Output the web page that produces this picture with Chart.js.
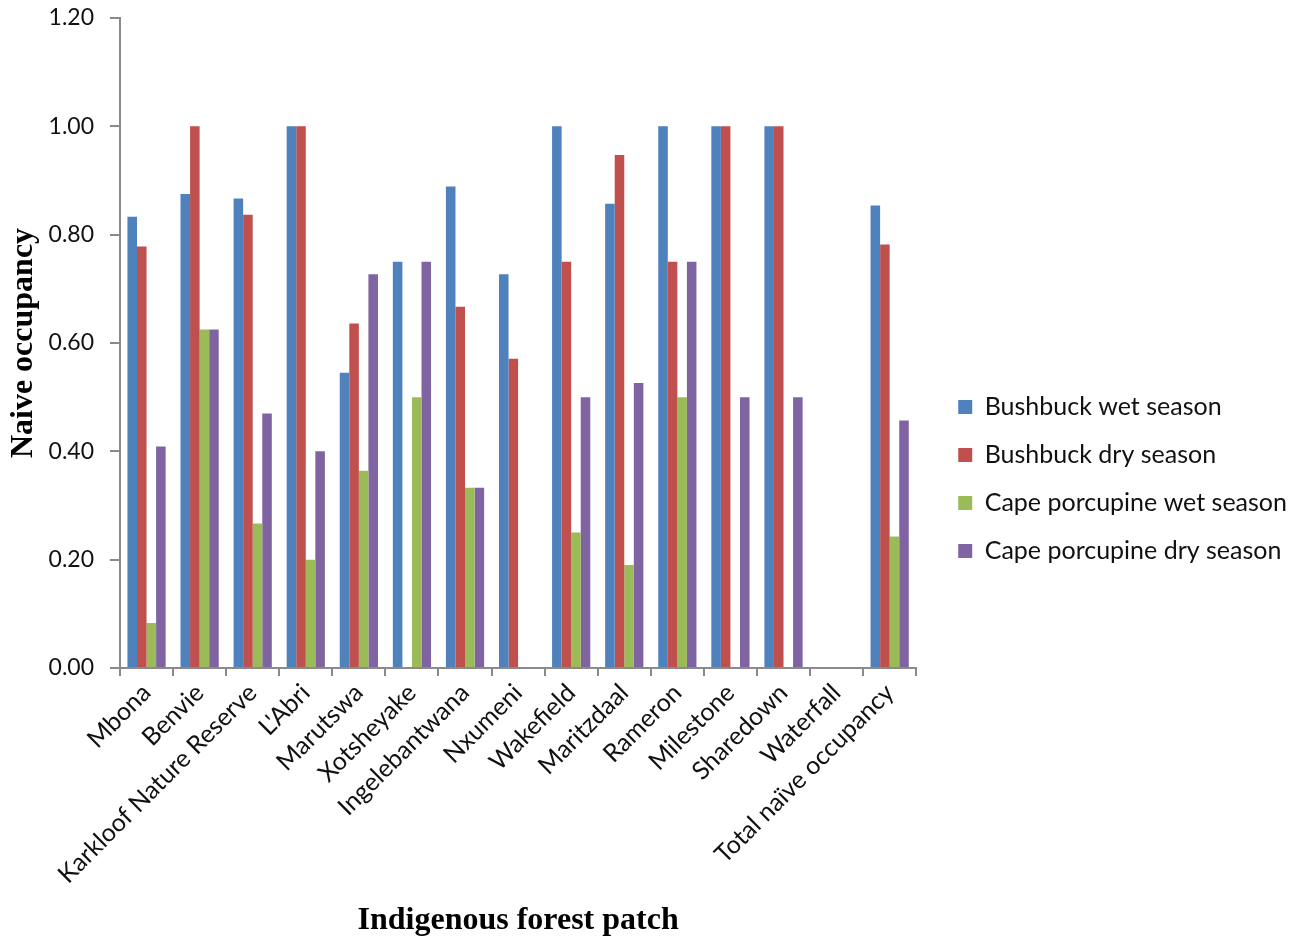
<!DOCTYPE html>
<html>
<head>
<meta charset="utf-8">
<title>Naive occupancy by indigenous forest patch</title>
<script src="https://cdn.jsdelivr.net/npm/chart.js@4.4.1/dist/chart.umd.min.js"></script>
<style>
  html, body { margin: 0; padding: 0; background: #ffffff; }
  #wrap { width: 1297px; height: 940px; }
</style>
</head>
<body>
<div id="wrap"><canvas id="chart" width="1297" height="940"></canvas></div>
<script>
// Forest patches (categories)
const patches = [
  'Mbona', 'Benvie', 'Karkloof Nature Reserve', "L'Abri", 'Marutswa',
  'Xotsheyake', 'Ingelebantwana', 'Nxumeni', 'Wakefield', 'Maritzdaal',
  'Rameron', 'Milestone', 'Sharedown', 'Waterfall', 'Total naïve occupancy'
];

// Naive occupancy per season
const bushbuckWet   = [0.833, 0.875, 0.867, 1.000, 0.545, 0.750, 0.889, 0.727, 1.000, 0.857, 1.000, 1.000, 1.000, 0, 0.854];
const bushbuckDry   = [0.778, 1.000, 0.837, 1.000, 0.636, 0,     0.667, 0.571, 0.750, 0.947, 0.750, 1.000, 1.000, 0, 0.782];
const porcupineWet  = [0.083, 0.625, 0.267, 0.200, 0.364, 0.500, 0.333, 0,     0.250, 0.190, 0.500, 0,     0,     0, 0.243];
const porcupineDry  = [0.409, 0.625, 0.470, 0.400, 0.727, 0.750, 0.333, 0,     0.500, 0.526, 0.750, 0.500, 0.500, 0, 0.457];

const seriesNames  = ['Bushbuck wet season', 'Bushbuck dry season', 'Cape porcupine wet season', 'Cape porcupine dry season'];
const seriesColors = ['#4F81BD', '#C0504D', '#9BBB59', '#8064A2'];

// Y axis range and tick step
const yMin = 0, yMax = 1.2, yStep = 0.2;

const axisGrey = '#8a8a8a';
const sansFont = 'Lato, "Open Sans", sans-serif';
const serifFont = '"Liberation Serif", "Times New Roman", serif';

const seriesValues = [bushbuckWet, bushbuckDry, porcupineWet, porcupineDry];

new Chart(document.getElementById('chart'), {
  type: 'bar',
  data: {
    labels: patches,
    datasets: seriesValues.map((vals, i) => ({
      label: seriesNames[i],
      data: vals,
      backgroundColor: seriesColors[i],
      borderWidth: 0,
      categoryPercentage: 0.72,
      barPercentage: 1.0
    }))
  },
  options: {
    responsive: false,
    devicePixelRatio: 1,
    animation: false,
    layout: { padding: { top: 18, left: 5, right: 0, bottom: 0 } },
    plugins: {
      tooltip: { enabled: false },
      legend: {
        position: 'right',
        maxWidth: 500,
        labels: {
          boxWidth: 14,
          boxHeight: 14,
          padding: 23,
          color: '#111111',
          font: { family: sansFont, size: 25 }
        }
      }
    },
    scales: {
      x: {
        grid: {
          display: true,
          drawOnChartArea: false,
          drawTicks: true,
          tickLength: 8,
          color: axisGrey,
          lineWidth: 2,
          offset: true
        },
        border: { display: true, color: axisGrey, width: 2 },
        ticks: {
          autoSkip: false,
          maxRotation: 45,
          minRotation: 45,
          padding: 2,
          color: '#111111',
          font: { family: sansFont, size: 25 }
        },
        title: {
          display: true,
          text: 'Indigenous forest patch',
          color: '#000000',
          padding: { top: 0, bottom: 0 },
          font: { family: serifFont, size: 32, weight: 'bold' }
        },
        afterFit(scale) { scale.height = 272; }
      },
      y: {
        min: yMin,
        max: yMax,
        grid: {
          display: true,
          drawOnChartArea: false,
          drawTicks: true,
          tickLength: 10,
          color: axisGrey,
          lineWidth: 2
        },
        border: { display: true, color: axisGrey, width: 2 },
        ticks: {
          stepSize: yStep,
          padding: 16,
          color: '#111111',
          font: { family: sansFont, size: 23 },
          callback: v => Number(v).toFixed(2)
        },
        title: {
          display: true,
          text: 'Naive occupancy',
          color: '#000000',
          padding: { top: 0, bottom: 0 },
          font: { family: serifFont, size: 32, weight: 'bold' }
        },
        afterFit(scale) {
          scale.width = 115;
          scale.paddingTop = 0;
          scale.paddingBottom = 0;
        }
      },
      // blank spacer between the plot and the legend
      gap: {
        type: 'linear',
        position: 'right',
        display: true,
        grid: { display: false },
        border: { display: false },
        ticks: { display: false },
        afterFit(scale) { scale.width = 19; }
      }
    }
  }
});
</script>
</body>
</html>
